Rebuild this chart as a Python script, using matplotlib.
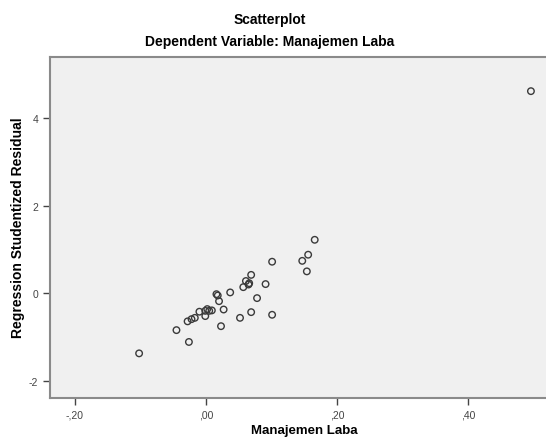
import matplotlib
matplotlib.use("Agg")
import matplotlib.pyplot as plt
from matplotlib.ticker import FuncFormatter

plt.rcParams['font.family'] = ['Liberation Sans', 'DejaVu Sans']
plt.rcParams['axes.unicode_minus'] = False

# nilai yang dibaca dari gambar
manajemen_laba = [-0.102, -0.045, -0.026, -0.028, -0.022, -0.017, -0.010, -0.001,
                  -0.001, 0.002, 0.005, 0.009, 0.016, 0.018, 0.020, 0.023,
                  0.027, 0.037, 0.052, 0.057, 0.061, 0.065, 0.066, 0.069,
                  0.069, 0.078, 0.091, 0.101, 0.101, 0.147, 0.154, 0.156,
                  0.166, 0.496]
residual = [-1.37, -0.84, -1.11, -0.64, -0.59, -0.56, -0.42, -0.52,
            -0.40, -0.36, -0.40, -0.39, -0.02, -0.05, -0.18, -0.75,
            -0.37, 0.02, -0.56, 0.14, 0.28, 0.20, 0.23, 0.42,
            -0.43, -0.11, 0.21, 0.72, -0.49, 0.74, 0.50, 0.88,
            1.22, 4.61]

x_ticks = [-0.2, 0.0, 0.2, 0.4]
y_ticks = [-2, 0, 2, 4]


def koma(v, pos):
    # format SPSS: koma desimal tanpa nol di depan
    s = f"{v:.2f}".replace('.', ',')
    if s.startswith('0'):
        s = s[1:]
    elif s.startswith('-0'):
        s = '-' + s[2:]
    return s


fig = plt.figure(figsize=(5.46, 4.39), dpi=100)
ax = fig.add_axes([50 / 546, 1 - 399 / 439, 496 / 546, 341 / 439])
ax.set_facecolor('#f0f0f0')

ax.scatter(manajemen_laba, residual, s=22, facecolors='none',
           edgecolors='#3a3a3a', linewidths=1.0, zorder=3)

ax.set_xlim(-0.238, 0.519)
ax.set_ylim(-2.388, 5.389)
ax.set_xticks(x_ticks)
ax.set_yticks(y_ticks)
ax.xaxis.set_major_formatter(FuncFormatter(koma))
ax.tick_params(labelsize=7.5, colors='#444444', length=5, width=1, direction='out')

for side in ['left', 'bottom', 'top']:
    ax.spines[side].set_color('#8a8a8a')
    ax.spines[side].set_linewidth(1.5)
ax.spines['right'].set_visible(False)

ax.set_xlabel("Manajemen Laba", fontsize=9.5, fontweight='bold', va='center')
ax.set_ylabel("Regression Studentized Residual", fontsize=10, fontweight='bold', va='center')
ax.xaxis.set_label_coords(254 / 496, -32 / 341)
ax.yaxis.set_label_coords(-32 / 496, (399 - 228) / 341)

fig.text(270 / 546, 1 - 20 / 439, "Scatterplot", ha='center', va='center',
         fontsize=10, fontweight='bold')
fig.text(270 / 546, 1 - 42 / 439, "Dependent Variable: Manajemen Laba", ha='center',
         va='center', fontsize=10, fontweight='bold')

fig.savefig("out.png", dpi=100)
